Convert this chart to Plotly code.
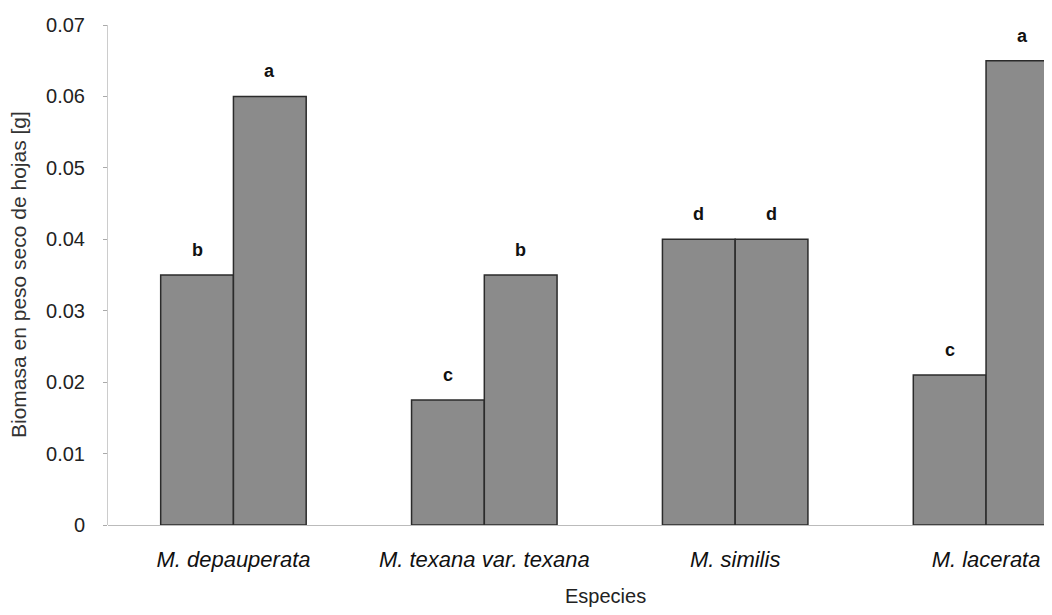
import plotly.graph_objects as go

especies = ["M. depauperata", "M. texana var. texana", "M. similis", "M. lacerata"]
serie_1 = [0.035, 0.0175, 0.040, 0.021]
serie_2 = [0.060, 0.035, 0.040, 0.065]
letras_1 = ["b", "c", "d", "c"]
letras_2 = ["a", "b", "d", "a"]
y_ticks = [0, 0.01, 0.02, 0.03, 0.04, 0.05, 0.06, 0.07]
y_tick_labels = ["0", "0.01", "0.02", "0.03", "0.04", "0.05", "0.06", "0.07"]

FONT = "Liberation Sans, Arial, sans-serif"
fill = "#8b8b8b"
edge = "#2b2b2b"

BARGAP = 0.42
X_RANGE = [-0.5, 3.231]
PLOT_W = 936

fig = go.Figure()
for vals, name in [(serie_1, "Serie 1"), (serie_2, "Serie 2")]:
    fig.add_trace(go.Bar(
        x=especies, y=vals, name=name,
        marker=dict(color=fill, line=dict(color=edge, width=1.5)),
        showlegend=False,
    ))

# letters above bars: offset = half of a bar's width in pixels
px_per_cat = PLOT_W / (X_RANGE[1] - X_RANGE[0])
half_bar = (1 - BARGAP) / 2 * px_per_cat / 2
annotations = []
for vals, letters, sign in [(serie_1, letras_1, -1), (serie_2, letras_2, 1)]:
    for cat, v, t in zip(especies, vals, letters):
        annotations.append(dict(
            x=cat, y=v, xref="x", yref="y", text="<b>%s</b>" % t,
            xshift=sign * half_bar, yshift=13, yanchor="bottom", xanchor="center",
            showarrow=False, font=dict(family=FONT, size=18, color="#111111"),
        ))
annotations.append(dict(
    text="Especies", xref="paper", yref="paper", x=497 / PLOT_W, y=-0.142,
    xanchor="center", yanchor="middle", showarrow=False,
    font=dict(family=FONT, size=20, color="#222222"),
))
annotations.append(dict(
    text="Biomasa en peso seco de hojas [g]", xref="paper", yref="paper",
    x=-90 / PLOT_W, y=0.5, xanchor="center", yanchor="middle", textangle=-90,
    showarrow=False, font=dict(family=FONT, size=21, color="#333333"),
))

fig.update_layout(
    width=1036, height=599,
    margin=dict(l=100, r=0, t=17, b=82),
    barmode="group", bargap=BARGAP, bargroupgap=0,
    plot_bgcolor="white", paper_bgcolor="white",
    font=dict(family=FONT, color="#222222"),
    annotations=annotations,
)
fig.update_xaxes(
    range=X_RANGE,
    showgrid=False, zeroline=False, showline=False,
    ticks="", ticklabelstandoff=19,
    tickfont=dict(family=FONT, size=22, style="italic", color="#111111"),
)
fig.update_yaxes(
    range=[0, 0.07],
    tickvals=y_ticks, ticktext=y_tick_labels,
    showgrid=False, zeroline=True, zerolinecolor="#bbbbbb", zerolinewidth=1,
    showline=True, linecolor="#cccccc", linewidth=1,
    ticks="outside", ticklen=4, tickcolor="#aaaaaa", ticklabelstandoff=14,
    tickfont=dict(family=FONT, size=20, color="#222222"),
)

fig.write_html("out.html")
